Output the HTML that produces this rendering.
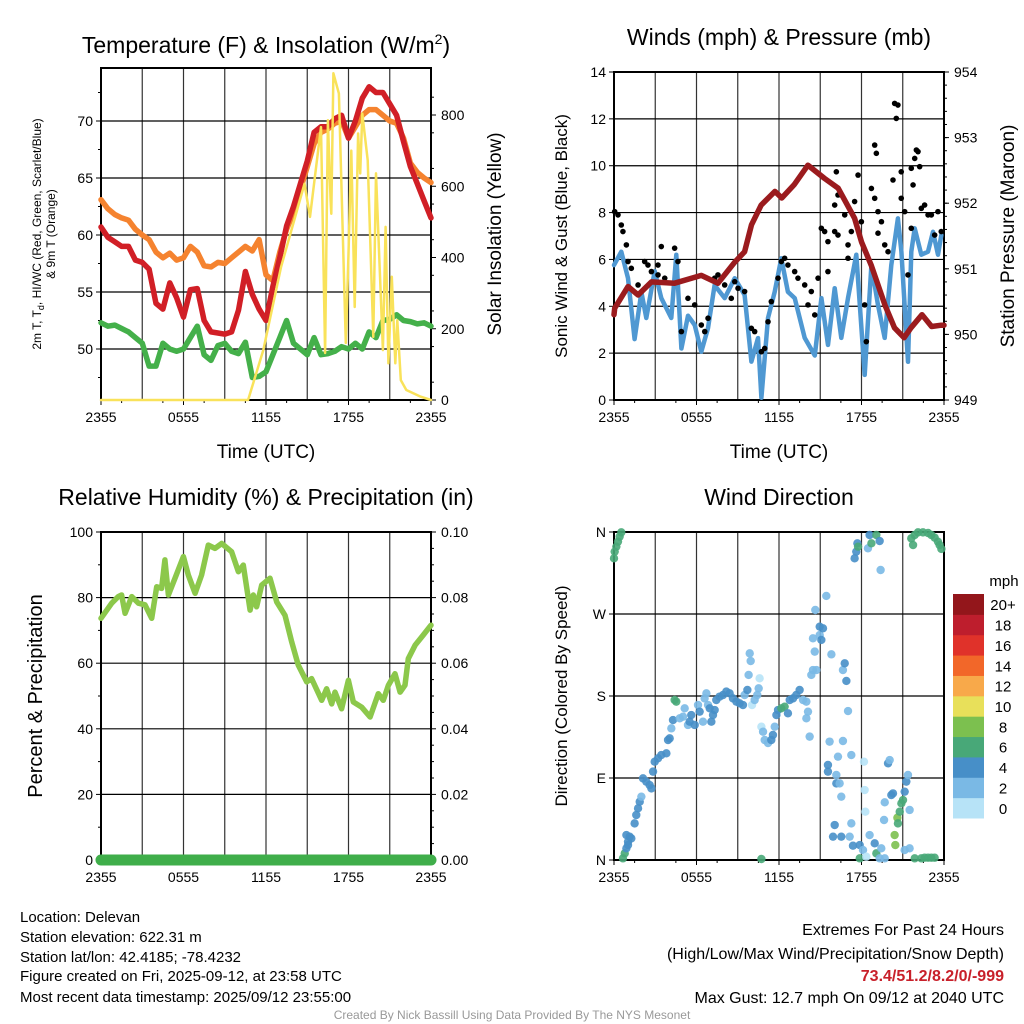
<!DOCTYPE html>
<html><head><meta charset="utf-8"><style>
body{margin:0;background:#fff;}
svg{display:block;font-family:"Liberation Sans",sans-serif;}
</style></head><body>
<svg id="root" width="1024" height="1024" viewBox="0 0 1024 1024" xmlns="http://www.w3.org/2000/svg">
<rect width="1024" height="1024" fill="#fff"/>
<g id="texts" fill="#000">
<text x="266" y="53" font-size="23" text-anchor="middle">Temperature (F) &amp; Insolation (W/m<tspan dy="-9" font-size="14">2</tspan><tspan dy="9">)</tspan></text>
<text x="779" y="45" font-size="23" text-anchor="middle">Winds (mph) &amp; Pressure (mb)</text>
<text x="266" y="505" font-size="23" text-anchor="middle">Relative Humidity (%) &amp; Precipitation (in)</text>
<text x="779" y="505" font-size="23" text-anchor="middle">Wind Direction</text>
<text x="266" y="458" font-size="19" text-anchor="middle">Time (UTC)</text>
<text x="779" y="458" font-size="19" text-anchor="middle">Time (UTC)</text>
<text transform="translate(41,234) rotate(-90)" font-size="12" text-anchor="middle">2m T, T<tspan dy="3" font-size="9">d</tspan><tspan dy="-3">, HI/WC (Red, Green, Scarlet/Blue)</tspan></text>
<text transform="translate(55,234) rotate(-90)" font-size="12" text-anchor="middle">&amp; 9m T (Orange)</text>
<text transform="translate(501,234) rotate(-90)" font-size="19" text-anchor="middle">Solar Insolation (Yellow)</text>
<text transform="translate(567,236) rotate(-90)" font-size="17" text-anchor="middle">Sonic Wind &amp; Gust (Blue, Black)</text>
<text transform="translate(1014,236) rotate(-90)" font-size="19" text-anchor="middle">Station Pressure (Maroon)</text>
<text transform="translate(42,696) rotate(-90)" font-size="20" text-anchor="middle">Percent &amp; Precipitation</text>
<text transform="translate(567,696) rotate(-90)" font-size="17" text-anchor="middle">Direction (Colored By Speed)</text>
<g font-size="15">
<text x="20" y="922">Location: Delevan</text>
<text x="20" y="942">Station elevation: 622.31 m</text>
<text x="20" y="962">Station lat/lon: 42.4185; -78.4232</text>
<text x="20" y="981">Figure created on Fri, 2025-09-12, at 23:58 UTC</text>
<text x="20" y="1002">Most recent data timestamp: 2025/09/12 23:55:00</text>
</g>
<g font-size="16" text-anchor="end">
<text x="1004" y="935">Extremes For Past 24 Hours</text>
<text x="1004" y="959">(High/Low/Max Wind/Precipitation/Snow Depth)</text>
<text x="1004" y="981" fill="#c8202a" font-weight="bold">73.4/51.2/8.2/0/-999</text>
<text x="1004" y="1003">Max Gust: 12.7 mph On 09/12 at 2040 UTC</text>
</g>
<text x="512" y="1019" font-size="12" fill="#999" text-anchor="middle">Created By Nick Bassill Using Data Provided By The NYS Mesonet</text>
</g>
</svg>
<script>
// ---------- DATA ----------
const hourSteps = [0,0.5,1,1.5,2,2.5,3,3.5,4,4.5,5,5.5,6,6.5,7,7.5,8,8.5,9,9.5,10,10.5,11,11.5,12,12.5,13,13.5,14,14.5,15,15.5,16,16.5,17,17.5,18,18.5,19,19.5,20,20.5,21,21.5,22,22.5,23,23.5,24];
const tempRed = [60.7,59.8,59.4,59,59,57.8,57.6,57,54,53.5,55.8,54.5,52.8,55.2,55.3,52.5,51.5,51.4,51.3,51.5,53.4,56.8,54.8,53.5,52.5,55.5,58,60.8,62.5,64.5,66.5,69,69.5,69.5,70.2,70.5,68.5,70,72,73,72.5,72.5,71.5,70.5,68.2,66,64.5,63,61.5];
const temp9m = [63.1,62.3,61.8,61.5,61.3,60.5,60,59.6,58.5,58,58.4,57.8,58,59,58.5,57.3,57.2,57.6,57.5,58,58.5,59,58.6,59.6,56.5,56,58.5,60.5,62,64,66,68,69,69.3,69.8,70,68.5,69.5,70.5,71,71,70.5,70,69.8,68.5,66.3,65.5,65,64.6];
const dewGreen = [52.3,52,52.1,51.8,51.5,51,50.5,48.5,48.5,50.5,50,49.8,50,51,52,49.5,49,50.3,50.5,49.8,49.6,50.6,47.5,47.6,48,49.5,51,52.5,50.5,50,49.5,51,49.5,49.6,49.8,50.2,50,50.5,50,51.5,51,52.5,52.6,53,52.5,52.4,52.2,52.3,52];
const solarHours = [0,10.7,11.8,13.1,14.8,15.2,16,16.3,16.5,16.7,16.75,16.9,17.3,17.8,18,18.2,18.45,18.7,18.85,19,19.4,19.8,20,20.5,20.7,20.9,21.15,21.4,21.55,21.8,22.2,23.2,24];
const solarVals = [0,0,140,374,607,514,766,132,785,560,523,917,860,160,411,700,261,748,636,804,673,177,636,140,486,103,346,103,224,56,28,10,0];
const windHours = [0,0.53,1.02,1.5,1.99,2.35,2.96,3.44,4.17,4.53,4.9,5.38,5.87,6.35,6.84,7.32,8.05,8.78,9.5,9.99,10.47,10.72,11.2,11.69,12.17,12.65,13.14,13.87,14.6,15.08,15.56,16.05,16.53,17.02,17.62,18.23,18.72,19.2,19.69,20.17,20.65,20.9,21.38,21.62,21.87,22.35,22.84,23.2,23.56,23.8];
const windVals = [5.76,6.33,5.2,2.6,4.6,3.5,5.5,4.35,3.5,6.2,2.2,3.6,3.2,2.06,3.07,4.9,4.35,5.2,4.48,1.64,2.64,0.1,3.5,4.62,6.05,4.62,4.35,2.65,1.9,4.35,2.35,4.77,2.65,4.35,6.2,1.07,5.76,4.05,2.65,5.76,7.75,6.33,1.63,6.33,7.33,6.2,6.33,7.18,6.2,7.04];
const gustHours = [0.05,0.29,0.53,0.65,0.9,1.02,1.26,1.75,2.23,2.47,2.72,3.2,3.44,3.2,3.69,4.41,4.65,4.9,5.38,5.87,6.35,6.6,6.84,7.32,7.56,8.05,8.53,8.78,9.02,9.5,9.99,10.23,10.72,10.96,11.2,11.44,11.93,12.17,12.41,12.65,13.14,13.38,13.87,14.11,14.35,14.6,14.84,15.08,15.32,15.56,15.56,16.05,16.29,16.05,16.29,16.17,16.53,16.78,17.02,17.02,17.26,17.5,17.75,17.99,18.23,18.35,18.72,18.96,19.2,19.2,18.96,19.08,19.45,19.69,19.93,20.41,20.53,20.65,20.89,20.29,20.89,21.14,21.38,21.62,21.62,21.75,21.87,21.99,22.11,22.23,22.35,22.59,22.84,23.08,23.32,23.56,23.8];
const gustVals = [8.04,7.9,7.47,7.19,6.62,5.91,5.62,4.91,5.91,5.76,5.48,5.76,6.55,5.34,5.2,6.48,5.91,2.92,4.34,4.06,3.2,2.92,3.49,5.2,5.34,4.91,4.34,5.05,4.77,4.63,3.06,2.92,2.06,2.2,3.34,4.2,5.2,5.91,6.05,5.76,5.48,5.2,4.91,4.06,4.63,3.63,5.2,7.33,7.19,6.76,5.48,7.19,7.04,8.32,8.75,9.74,8.75,7.9,6.05,6.62,7.19,8.47,9.6,7.61,4.06,2.49,9.03,8.61,8.04,7.12,10.88,10.53,7.61,6.62,6.33,12.66,12.02,12.59,9.74,9.39,8.61,8.04,5.34,7.33,9.89,9.18,10.31,10.67,10.6,9.96,8.18,8.32,7.9,7.9,7.04,8.04,7.19];
const presHours = [0,0.05,1.02,1.75,2.72,4.41,6.35,7.56,8.78,9.5,10,10.7,11.7,12.2,13.1,14.1,15.3,16.3,17.5,18,18.7,19.7,20.4,21.1,21.6,22.4,23.1,23.8,24];
const presVals = [950.3,950.4,950.73,950.6,950.8,950.78,950.9,950.78,951.1,951.26,951.67,951.97,952.18,952.08,952.28,952.58,952.38,952.23,951.77,951.41,951.06,950.45,950.1,949.95,950.1,950.3,950.12,950.14,950.14];
const rhHours = [0,0.78,1.26,1.5,1.75,2.23,2.72,3.2,3.69,4.05,4.41,4.65,4.9,5.38,5.99,6.35,6.84,7.32,7.8,8.29,8.78,9.5,9.99,10.35,10.84,11.08,11.32,11.69,12.29,12.78,13.38,13.87,14.35,14.96,15.32,16.05,16.41,16.78,17.02,17.5,17.99,18.35,18.96,19.57,20.17,20.53,20.9,21.38,21.75,22.11,22.35,22.84,23.44,24];
const rhVals = [73.7,78.3,80.3,80.8,75.2,80.3,78.3,77.8,73.7,83.3,82.8,91.5,80.8,85.9,92.5,86.9,81.3,86.9,96,95,96.5,94,87.9,89.9,76.2,80.8,77.2,83.8,85.9,78.7,74.6,66.5,59.4,54.3,55.3,48.7,52.2,47.6,51.2,46.1,54.8,48.2,46.6,43.6,50.7,48.7,53.3,56.8,51.2,53.3,61.4,65.5,68.6,71.6];
const precipHours = [0,24];
const precipVals = [0,0];
const dirHours = [0,0.05,0.17,0.29,0.41,0.53,0.65,0.78,0.9,1.02,1.14,1.26,1.02,0.9,1.5,1.62,1.75,1.87,1.99,2.11,2.35,2.59,2.72,2.84,2.96,3.2,3.44,3.81,3.93,4.05,4.17,4.29,4.41,4.53,4.78,5.02,5.14,5.38,5.5,5.62,5.87,6.11,6.23,6.47,6.59,6.72,6.84,6.96,7.08,7.2,7.32,7.44,7.68,7.93,8.17,8.41,8.65,8.9,9.14,9.38,9.5,9.7,9.79,9.87,9.94,10.04,10.23,10.42,10.52,10.59,10.72,10.84,10.96,11.2,11.44,11.56,11.69,11.81,11.93,12.17,12.41,12.65,12.78,13.02,13.26,13.5,13.75,13.99,13.99,14.11,14.23,14.35,14.47,14.72,14.6,14.47,14.96,15.08,14.96,15.2,14.64,15.44,15.81,15.68,15.56,15.56,16.29,16.17,16.17,16.41,16.53,16.65,16.65,16.78,16.9,17.02,17.26,17.26,17.5,17.62,17.7,17.75,16.05,15.93,16.53,17.14,17.38,17.87,18.11,17.87,18.35,18.18,18.23,18.28,18.47,18.59,18.72,18.59,19.08,19.32,18.96,19.08,19.44,19.32,19.69,19.64,19.69,19.39,19.93,20.05,20.17,20.29,20.41,20.46,20.61,20.65,20.78,20.9,21.02,21.14,21.26,21.38,21.5,21.14,21.5,21.62,21.75,21.87,22.11,22.47,22.84,23.08,23.32,23.56,23.68,23.81,21.87,22.35,22.59,22.84,23.08,23.32,10.72];
const dirDeg = [331.1,338.4,343.9,349.4,354.9,359.6,1.8,7.3,12.8,20.1,25.6,23.7,16.4,27.4,40.2,49.4,56.7,64,69.5,89.6,86,82.3,78.6,97,107.9,111.6,115.2,117.1,131.7,133.5,144.5,153.6,175.6,173.8,155.5,157.3,166.5,148.2,151.8,159.1,148.2,170.1,162.8,151.8,177.4,182.9,170.1,166.5,151.8,159.1,164.6,175.6,179.3,181.1,184.8,182.9,177.4,173.8,172,170.1,181.1,186.6,203.1,226.8,218.4,170.1,175.6,181.1,188.4,199.4,146.3,140.8,131.7,128.4,131.7,137.2,146.3,159.1,164.6,166.5,168.3,161,175.6,177.4,181.1,186.6,175.6,173.8,155.5,162.8,135.4,203.1,208.5,208.5,228.7,243.3,246.9,241.5,256.1,254.3,274.4,289.8,225.7,129.9,104.3,97,113.4,93.3,84.1,84.1,69.5,130.6,208.5,215.9,196.5,163.5,115.2,40.2,331.1,338.4,347.6,343.9,38.4,25.6,25.6,25.6,15.7,16.4,10.9,1.8,3.6,107.9,76.8,53,342.1,27.4,347.6,356.7,356.7,350.1,18.3,7.3,12.8,1.8,1.8,43.9,63.3,318.3,106.1,109.7,71.3,73.1,27.4,16.4,46.4,40.2,53,62.2,65.8,75,86,93.3,54.9,10.9,12.8,353,345.7,356.7,359.6,359.6,358.9,356.7,353.8,349.4,345.7,341.4,1.8,1.8,2.5,2.5,2.5,2.5,1.1];
const dirSpeed = [6.5,6.5,6.5,6.5,6.5,6.5,6.5,6.5,4.5,4.5,4.5,4.5,4.5,4.5,4.5,4.5,4.5,4.5,2.5,4.5,4.5,4.5,4.5,4.5,4.5,4.5,4.5,4.5,4.5,4.5,2.5,4.5,6.5,6.5,2.5,2.5,2.5,2.5,4.5,4.5,4.5,2.5,4.5,2.5,2.5,2.5,2.5,4.5,4.5,4.5,4.5,4.5,4.5,4.5,4.5,4.5,4.5,4.5,4.5,4.5,2.5,4.5,2.5,2.5,2.5,0.5,2.5,2.5,2.5,0.5,0.5,2.5,2.5,2.5,4.5,4.5,2.5,4.5,4.5,6.5,6.5,4.5,4.5,4.5,4.5,4.5,2.5,2.5,2.5,2.5,2.5,2.5,2.5,2.5,2.5,2.5,2.5,4.5,4.5,4.5,2.5,2.5,2.5,2.5,4.5,4.5,2.5,2.5,4.5,2.5,2.5,2.5,2.5,4.5,4.5,2.5,2.5,2.5,4.5,4.5,4.5,6.5,4.5,4.5,4.5,2.5,4.5,4.5,2.5,6.5,0.5,0.5,0.5,0.5,2.5,2.5,6.5,4.5,6.5,4.5,4.5,6.5,2.5,2.5,2.5,2.5,2.5,2.5,4.5,2.5,4.5,4.5,8.5,8.5,8.5,6.5,6.5,6.5,6.5,4.5,4.5,2.5,2.5,2.5,2.5,6.5,6.5,6.5,6.5,6.5,6.5,6.5,6.5,6.5,6.5,6.5,6.5,6.5,6.5,6.5,6.5,6.5,6.5,0.5];
const tempTicks = [50,55,60,65,70];
const solarTicks = [0,200,400,600,800];
const windTicks = [0,2,4,6,8,10,12,14];
const presTicks = [949,950,951,952,953,954];
const rhTicks = [0,20,40,60,80,100];
const precipTicks = ["0.00","0.02","0.04","0.06","0.08","0.10"];
const dirTicks = ["N","E","S","W","N"];
const timeTicks = ["2355","0555","1155","1755","2355"];
const cbLabels = ["0","2","4","6","8","10","12","14","16","18","20+"];
const cbColors = ["#b7e3f7","#7ab9e5","#478fc8","#48a878","#7cc04f","#e8e05a","#f8a94a","#f26729","#e0322a","#be1e2d","#93161b"];

// ---------- DRAWING ----------
const NS = "http://www.w3.org/2000/svg";
const root = document.getElementById('root');
function mk(tag, attrs, parent){const e=document.createElementNS(NS,tag);for(const k in attrs)e.setAttribute(k,attrs[k]);(parent||root).appendChild(e);return e;}
function lin(d0,d1,r0,r1){return v=>r0+(v-d0)/(d1-d0)*(r1-r0);}

function frame(x0,y0,x1,y1,name,leftTicks,ly,rightTicks,ry,xTicks){
  const g=mk('g',{});
  
  
  const xs=lin(0,24,x0,x1);
  for(let h=3;h<24;h+=3){const l=mk('line',{x1:xs(h),x2:xs(h),y1:y0,y2:y1,stroke:'#333','stroke-width':1.2},g);
    
    }
  leftTicks.forEach((t,i)=>{const y=ly(i);
    const l=mk('line',{x1:x0,x2:x1,y1:y,y2:y,stroke:'#000','stroke-width':1.2},g);
    
    
    const tx=mk('text',{x:x0-8,y:y+5,'font-size':14,'text-anchor':'end'},g);tx.textContent=t;
    
    
    mk('line',{x1:x0-5,x2:x0,y1:y,y2:y,stroke:'#000'},g);});
  if(rightTicks) rightTicks.forEach((t,i)=>{const y=ry(i);
    const tx=mk('text',{x:x1+10,y:y+5,'font-size':14},g);tx.textContent=t;
    
    
    mk('line',{x1:x1,x2:x1+5,y1:y,y2:y,stroke:'#000'},g);});
  xTicks.forEach((t,i)=>{const x=x0+i*(x1-x0)/4;
    const tx=mk('text',{x:x,y:y1+22,'font-size':14,'text-anchor':'middle'},g);tx.textContent=t;
    
    
    mk('line',{x1:x,x2:x,y1:y1,y2:y1+5,stroke:'#000'},g);});
  for(let h=1.5;h<24;h+=3){mk('line',{x1:xs(h),x2:xs(h),y1:y1,y2:y1+3,stroke:'#000'},g);}
  mk('rect',{x:x0,y:y0,width:x1-x0,height:y1-y0,fill:'none',stroke:'#000','stroke-width':2},g);
  return g;
}
function path(xsF,ysF,hs,vs,stroke,w,name){
  let d='';hs.forEach((h,i)=>{d+=(i?'L':'M')+xsF(h).toFixed(1)+' '+ysF(vs[i]).toFixed(1);});
  const p=mk('path',{d:d,fill:'none',stroke:stroke,'stroke-width':w,'stroke-linejoin':'round','stroke-linecap':'round'});
  
  
  return p;
}

// Panel 1
{const x0=101,x1=431,y0=68,y1=400;
 const xs=lin(0,24,x0,x1), yT=lin(50,70,349,121), yS=lin(0,800,400,115);
 const g=frame(x0,y0,x1,y1,'temperature-panel',tempTicks,i=>yT(tempTicks[i]),solarTicks,i=>yS(solarTicks[i]),timeTicks);
 for(let v=50;v<=900;v+=100){if(v%200)mk('line',{x1:x1,x2:x1+3,y1:yS(v),y2:yS(v),stroke:'#000'},g);}
 for(let v=47.5;v<=72.5;v+=5){mk('line',{x1:x0-3,x2:x0,y1:yT(v),y2:yT(v),stroke:'#000'},g);}
 path(xs,yT,hourSteps,temp9m,'#f5832f',5.5,'temp-9m-line');
 path(xs,yT,hourSteps,tempRed,'#d11f26',5.5,'temp-2m-line');
 path(xs,yT,hourSteps,dewGreen,'#44b04a',5.5,'dewpoint-line');
 path(xs,yS,solarHours,solarVals,'#f9e25a',2.5,'solar-insolation-line');
}
// Panel 2
{const x0=614,x1=944,y0=72,y1=400;
 const xs=lin(0,24,x0,x1), yW=lin(0,14,400,72), yP=lin(949,954,400,72);
 const g=frame(x0,y0,x1,y1,'winds-panel',windTicks,i=>yW(windTicks[i]),presTicks,i=>yP(presTicks[i]),timeTicks);
 for(let v=949.2;v<954;v+=0.2){mk('line',{x1:x1,x2:x1+3,y1:yP(v),y2:yP(v),stroke:'#000'},g);}
 path(xs,yW,windHours,windVals,'#4f98d2',4.5,'sonic-wind-line');
 gustHours.forEach((h,i)=>{const c=mk('circle',{cx:xs(h),cy:yW(gustVals[i]),r:2.8,fill:'#000'});
   
   });
 path(xs,yP,presHours,presVals,'#9b1b1e',5.5,'pressure-line');
}
// Panel 3
{const x0=101,x1=431,y0=532,y1=860;
 const xs=lin(0,24,x0,x1), yR=lin(0,100,860,532);
 const g=frame(x0,y0,x1,y1,'humidity-panel',rhTicks,i=>yR(rhTicks[i]),precipTicks,i=>yR(rhTicks[i]),timeTicks);
 for(let v=10;v<100;v+=20){mk('line',{x1:x0-3,x2:x0,y1:yR(v),y2:yR(v),stroke:'#000'},g);}
 for(let v=5;v<100;v+=5){if(v%20)mk('line',{x1:x1,x2:x1+3,y1:yR(v),y2:yR(v),stroke:'#000'},g);}
 path(xs,yR,rhHours,rhVals,'#8cc84b',5.5,'relative-humidity-line');
 const yPr=lin(0,0.1,860,532);
 path(xs,yPr,precipHours,precipVals,'#3fae4a',11,'precipitation-line');
}
// Panel 4
{const x0=614,x1=944,y0=532,y1=860;
 const xs=lin(0,24,x0,x1), yD=lin(0,360,860,532);
 frame(x0,y0,x1,y1,'wind-direction-panel',dirTicks,i=>yD(i*90),null,null,timeTicks);
 function col(s){let k=Math.floor(s/2);if(k>10)k=10;return cbColors[k];}
 dirHours.forEach((h,i)=>{const c=mk('circle',{cx:xs(h),cy:yD(dirDeg[i]),r:4.2,fill:col(dirSpeed[i]),'fill-opacity':0.9});
   
   });
 const cb=mk('g',{});
 
 
 const t=mk('text',{x:1004,y:586,'font-size':15,'text-anchor':'middle'},cb);t.textContent='mph';
 const bh=224/11;
 cbColors.forEach((c,i)=>{const y=818-(i+1)*bh;
   const r=mk('rect',{x:953,y:y,width:31,height:bh+0.5,fill:c},cb);
   
   
   const tx=mk('text',{x:1003,y:y+bh/2+6,'font-size':15,'text-anchor':'middle'},cb);tx.textContent=cbLabels[i];
   
   });
}
</script>
</body></html>
